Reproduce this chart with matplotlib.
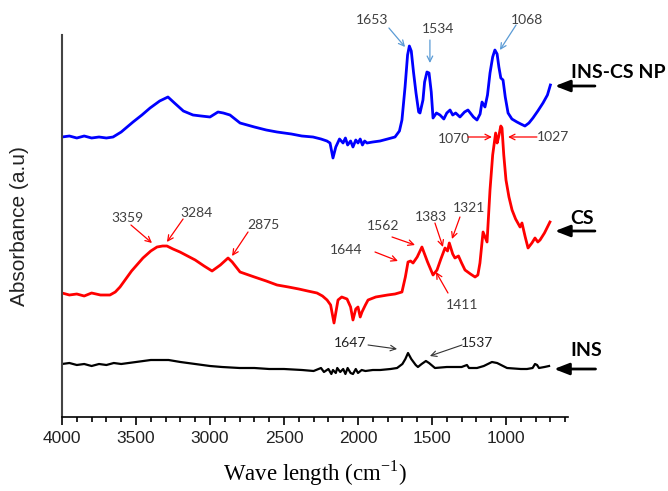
import numpy as np
import matplotlib
matplotlib.use('Agg')
import matplotlib.pyplot as plt

# FTIR spectra (wavenumber, offset absorbance in arbitrary units)
ins_cs_wn = [4000, 3950, 3900, 3850, 3800, 3750, 3700, 3655, 3600, 3520, 3460, 3405,
             3340, 3284, 3240, 3180, 3115, 3060, 3000, 2946, 2910, 2865,
             2797, 2700, 2620, 2547, 2450, 2380, 2304, 2250, 2210, 2189, 2169, 2150,
             2125, 2101, 2085, 2070, 2050, 2034, 2015, 2000, 1985, 1970, 1955, 1939,
             1900, 1851, 1800, 1750, 1720, 1703, 1682, 1665, 1653, 1640, 1625, 1608,
             1590, 1581, 1561, 1550, 1534, 1520, 1505, 1493, 1470, 1446, 1420, 1400,
             1378, 1360, 1340, 1311, 1280, 1257, 1220, 1196, 1175, 1162, 1142, 1125,
             1108, 1090, 1075, 1060, 1048, 1035, 1020, 1005, 986, 960, 926, 900,
             872, 845, 818, 785, 750, 720, 700]
ins_cs_ab = [280, 281, 279, 281, 279, 280, 279, 280, 285, 295, 302, 309,
             316, 320, 314, 306, 302, 301, 300, 305, 304, 302,
             294, 290, 287, 285, 283, 281, 280, 278, 276, 274, 259, 270,
             278, 274, 279, 272, 276, 270, 277, 274, 278, 272, 276, 274,
             275, 276, 278, 280, 286, 297, 330, 362, 371, 366, 345, 324,
             305, 304, 317, 335, 345, 344, 325, 299, 304, 302, 298, 304,
             307, 302, 304, 300, 305, 307, 300, 297, 303, 315, 310, 322,
             344, 360, 367, 363, 350, 339, 337, 320, 304, 298, 295, 293,
             291, 294, 299, 306, 314, 322, 332]

cs_wn = [4000, 3950, 3900, 3850, 3800, 3740, 3676, 3640, 3608, 3530, 3453, 3400,
         3358, 3320, 3291, 3250, 3203, 3100, 3040, 2986, 2930, 2878, 2850,
         2797, 2700, 2620, 2547, 2470, 2400, 2340, 2277, 2240, 2209, 2185, 2162,
         2135, 2110, 2074, 2050, 2034, 2015, 2000, 1985, 1973, 1950, 1932, 1880,
         1800, 1750, 1703, 1680, 1662, 1645, 1628, 1600, 1568, 1530, 1493, 1466,
         1440, 1412, 1395, 1383, 1360, 1345, 1321, 1300, 1277, 1240, 1209, 1190,
         1176, 1155, 1128, 1108, 1090, 1070, 1060, 1050, 1035, 1027, 1015, 1000,
         980, 959, 935, 905, 892, 870, 851, 825, 804, 785, 770, 740, 703]
cs_ab = [124, 122, 123, 121, 124, 122, 122, 125, 130, 146, 159, 166,
         170, 171, 171, 168, 165, 157, 151, 146, 152, 159, 155,
         145, 140, 136, 132, 130, 128, 126, 124, 121, 117, 112, 94,
         117, 120, 118, 110, 97, 108, 110, 100, 105, 112, 117, 120,
         122, 123, 125, 140, 155, 156, 154, 160, 170, 155, 142, 147,
         158, 169, 166, 174, 163, 159, 161, 154, 147, 143, 140, 142,
         154, 185, 175, 227, 262, 284, 274, 280, 291, 289, 262, 237,
         220, 207, 198, 190, 194, 180, 169, 174, 179, 175, 177, 184, 195]

ins_wn = [4000, 3950, 3900, 3850, 3800, 3750, 3700, 3650, 3600, 3500, 3400, 3338,
          3280, 3200, 3100, 3000, 2919, 2800, 2700, 2600, 2500, 2378, 2300, 2250,
          2230, 2200, 2180, 2169, 2150, 2140, 2120, 2100, 2085, 2070, 2050, 2034,
          2015, 2000, 1975, 1950, 1900, 1850, 1780, 1736, 1700, 1680, 1662, 1640,
          1610, 1595, 1570, 1541, 1520, 1480, 1400, 1300, 1264, 1250, 1196, 1150,
          1095, 1060, 1020, 993, 900, 858, 820, 804, 790, 777, 740, 709]
ins_ab = [53, 54, 52, 53, 51, 53, 52, 54, 53, 55, 57, 57,
          57, 55, 53, 51, 50, 49, 49, 48, 48, 47, 46, 49,
          45, 48, 43, 47, 44, 49, 45, 48, 43, 49, 44, 43,
          48, 44, 47, 46, 47, 47, 48, 49, 53, 58, 64, 58,
          52, 50, 53, 56, 54, 49, 50, 50, 52, 49, 49, 51,
          55, 54, 51, 49, 48, 48, 49, 53, 52, 49, 50, 51]

# peak labels: text, text position, arrow start, arrow tip
blue_ann = [('1653', (1905, 397), (1791, 389), (1682, 370)),
            ('1534', (1459, 388), (1514, 377), (1514, 354)),
            ('1068', (858, 397), (932, 392), (1041, 367))]
red_ann = [('1070', (1351, 278), (1257, 280), (1095, 280)),
           ('1027', (682, 280), (791, 280), (986, 280)),
           ('3359', (3561, 199), (3534, 192), (3392, 174)),
           ('3284', (3088, 204), (3182, 198), (3291, 175)),
           ('2875', (2642, 192), (2743, 185), (2851, 161)),
           ('1644', (2081, 167), (1885, 165), (1730, 156)),
           ('1562', (1831, 191), (1770, 180), (1615, 172)),
           ('1383', (1507, 200), (1480, 194), (1426, 170)),
           ('1321', (1250, 209), (1311, 200), (1365, 178)),
           ('1411', (1297, 112), (1392, 124), (1473, 145))]
black_ann = [('1647', (2054, 74), (1932, 72), (1736, 68)),
             ('1537', (1196, 74), (1297, 72), (1514, 61))]

# sample names with their arrows: text, text position, arrow tail, arrow tip
names = [('INS-CS NP', (561, 344), (399, 331), (669, 331)),
         ('CS', (568, 198), (399, 186), (669, 186)),
         ('INS', (568, 67), (395, 48), (675, 48))]

plt.rcParams['mathtext.fontset'] = 'custom'
plt.rcParams['mathtext.rm'] = 'Liberation Serif'

fig = plt.figure(figsize=(6.68, 4.91), dpi=100)
ax = fig.add_axes([62/668, 1-417/491, (568-62)/668, (417-35)/491])

ax.plot(ins_cs_wn, ins_cs_ab, color='#0000ff', lw=2.0)
ax.plot(cs_wn, cs_ab, color='#ff0000', lw=2.0)
ax.plot(ins_wn, ins_ab, color='black', lw=1.6)

ax.set_xlim(4000, 581)
ax.set_ylim(0, 382)
ax.set_xticks(np.arange(4000, 999, -500))
ax.set_xticks(np.arange(4000, 599, -100), minor=True)
ax.set_yticks([])
ax.tick_params(axis='x', which='major', direction='out', length=6, width=1.2,
               labelsize=12.5, pad=4)
ax.tick_params(axis='x', which='minor', direction='out', length=3.5, width=1.2)
for lab in ax.get_xticklabels():
    lab.set_family('Liberation Sans')
    lab.set_color('#222222')
ax.spines['top'].set_visible(False)
ax.spines['right'].set_visible(False)
ax.spines['left'].set_color('#444444')
ax.spines['left'].set_linewidth(1.5)
ax.spines['bottom'].set_linewidth(1.2)

ax.set_ylabel('Absorbance (a.u)', family='Liberation Sans', fontsize=15,
              color='#222222', labelpad=24)
ax.set_xlabel(r'Wave length (cm$^{-1}$)', family='Liberation Serif', fontsize=16.5,
              labelpad=9)


def label_peaks(items, arrow_color, text_color, lw):
    for txt, tpos, start, tip in items:
        ax.text(tpos[0], tpos[1], txt, ha='center', va='center', fontsize=10,
                family='Lato', color=text_color)
        ax.annotate('', xy=tip, xytext=start,
                    arrowprops=dict(arrowstyle='->', color=arrow_color, lw=lw,
                                    shrinkA=0, shrinkB=0))


label_peaks(blue_ann, '#5b9bd5', '#404040', 0.9)
label_peaks(red_ann, '#ff0000', '#404040', 0.9)
label_peaks(black_ann, '#333333', '#222222', 0.8)

for txt, tpos, tail, tip in names:
    ax.text(tpos[0], tpos[1], txt, ha='left', va='center', fontsize=14,
            family='Lato', weight='bold', color='black', clip_on=False)
    ax.annotate('', xy=tip, xytext=tail, annotation_clip=False,
                arrowprops=dict(arrowstyle='-|>,head_width=0.35,head_length=0.9',
                                color='black', lw=2, shrinkA=0, shrinkB=0))

fig.savefig('out.png', dpi=100)
